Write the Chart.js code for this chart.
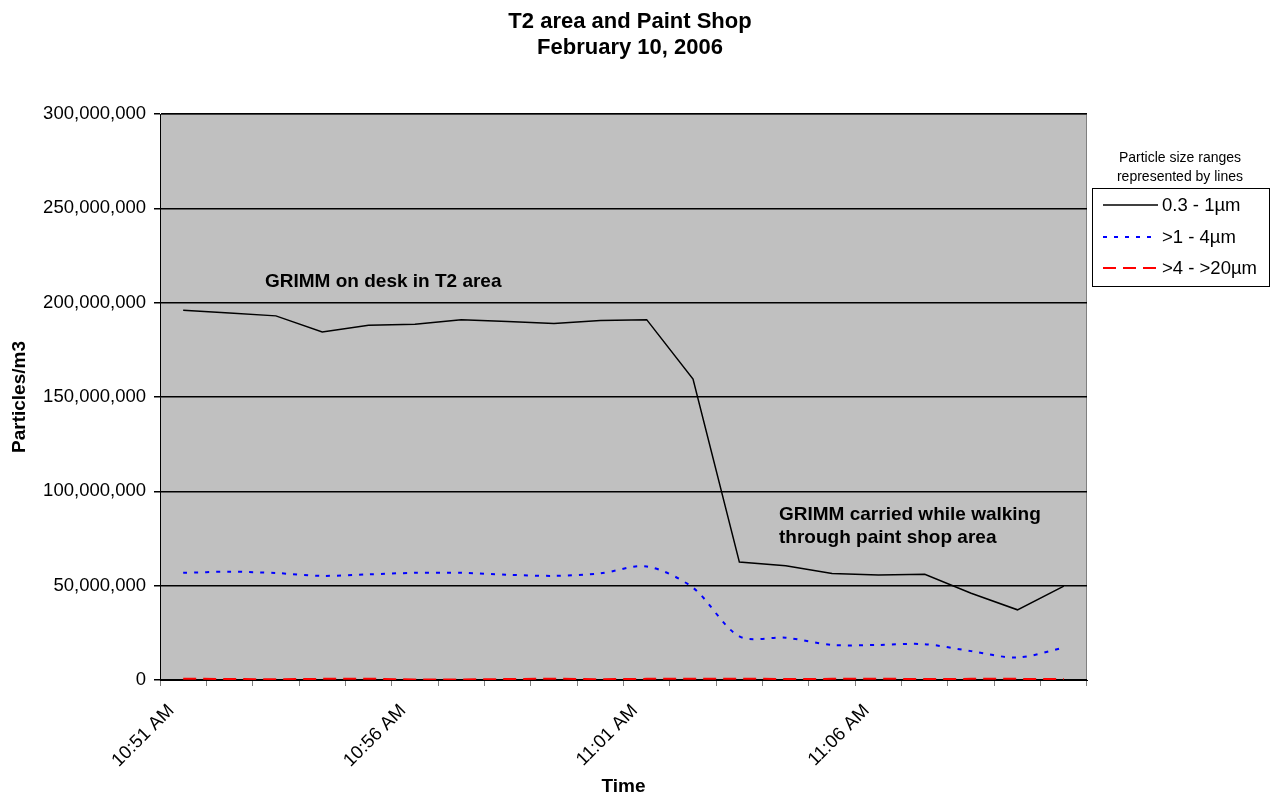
<!DOCTYPE html>
<html>
<head>
<meta charset="utf-8">
<script src="https://cdn.jsdelivr.net/npm/chart.js@4"></script>
<style>
  html, body { margin: 0; padding: 0; background: #fff; }
  #wrap { width: 1275px; height: 799px; }
</style>
</head>
<body>
<div id="wrap"><canvas id="mychart" width="1275" height="799"></canvas></div>
<script>
// one reading per minute
const times = ['10:51 AM', '10:52 AM', '10:53 AM', '10:54 AM', '10:55 AM', '10:56 AM', '10:57 AM',
  '10:58 AM', '10:59 AM', '11:00 AM', '11:01 AM', '11:02 AM', '11:03 AM', '11:04 AM', '11:05 AM',
  '11:06 AM', '11:07 AM', '11:08 AM', '11:09 AM', '11:10 AM']

const small = [196000000, 194500000, 193000000, 184500000, 188000000, 188500000, 191000000,
  190000000, 189000000, 190500000, 191000000, 159500000, 62500000, 60500000, 56500000,
  55700000, 56000000, 46000000, 37200000, 49800000]

const medium = [56800000, 57400000, 56700000, 55200000, 56000000, 56800000, 56800000,
  55800000, 55200000, 56500000, 60200000, 48900000, 23100000, 22400000, 18600000,
  18600000, 19000000, 15300000, 11900000, 17200000]

const large = [700000, 500000, 400000, 600000, 700000, 300000, 300000, 500000, 700000, 400000,
  600000, 700000, 700000, 500000, 600000, 700000, 500000, 600000, 600000, 500000]

const seriesNames = ['0.3 - 1\u00b5m', '>1 - 4\u00b5m', '>4 - >20\u00b5m']
const yTicks = [0, 50000000, 100000000, 150000000, 200000000, 250000000, 300000000]

const FONT = "'Liberation Sans', Arial, sans-serif"

const decorations = {
    id: 'decorations',
    beforeDraw(chart) {
        const { ctx, chartArea: a } = chart
        ctx.save()
        ctx.fillStyle = '#fff'
        ctx.fillRect(0, 0, chart.width, chart.height)
        ctx.fillStyle = '#c0c0c0'
        ctx.fillRect(a.left, a.top, a.right - a.left, a.bottom - a.top)
        ctx.strokeStyle = '#808080'
        ctx.lineWidth = 1
        ctx.strokeRect(a.left + 0.5, a.top + 0.5, a.right - a.left - 1, a.bottom - a.top - 1)
        ctx.restore()
    },
    afterDraw(chart) {
        const ctx = chart.ctx
        ctx.save()
        ctx.fillStyle = '#000'
        ctx.textBaseline = 'middle'

        // title
        ctx.textAlign = 'center'
        ctx.font = 'bold 22px ' + FONT
        ctx.fillText('T2 area and Paint Shop', 630, 22)
        ctx.fillText('February 10, 2006', 630, 48)

        // notes on the plot
        ctx.textAlign = 'left'
        ctx.font = 'bold 19px ' + FONT
        ctx.fillText('GRIMM on desk in T2 area', 265, 282)
        ctx.fillText('GRIMM carried while walking', 779, 515)
        ctx.fillText('through paint shop area', 779, 538)

        // legend
        ctx.textAlign = 'center'
        ctx.font = '14px ' + FONT
        ctx.fillText('Particle size ranges', 1180, 158)
        ctx.fillText('represented by lines', 1180, 177)
        ctx.fillStyle = '#fff'
        ctx.fillRect(1092, 188, 177, 98)
        ctx.strokeStyle = '#000'
        ctx.lineWidth = 1
        ctx.strokeRect(1092.5, 188.5, 177, 98)
        const rows = [205, 237, 268]
        chart.data.datasets.forEach((ds, i) => {
            ctx.strokeStyle = ds.borderColor
            ctx.lineWidth = ds.borderWidth
            ctx.setLineDash(ds.borderDash || [])
            ctx.beginPath()
            ctx.moveTo(1103, rows[i])
            ctx.lineTo(1158, rows[i])
            ctx.stroke()
            ctx.setLineDash([])
            ctx.fillStyle = '#000'
            ctx.textAlign = 'left'
            ctx.font = '18.5px ' + FONT
            ctx.fillText(ds.label, 1162, rows[i] + 1)
        })
        ctx.restore()
    }
}

const chart = new Chart(document.getElementById('mychart'), {
    type: 'line',
    data: {
        labels: times,
        datasets: [{
            label: seriesNames[0],
            data: small,
            borderColor: '#000000',
            borderWidth: 1.5,
            tension: 0
        }, {
            label: seriesNames[1],
            data: medium,
            borderColor: '#0000ff',
            borderWidth: 2,
            borderDash: [4, 7],
            tension: 0.3
        }, {
            label: seriesNames[2],
            data: large,
            borderColor: '#ff0000',
            borderWidth: 2,
            borderDash: [13, 7],
            tension: 0
        }]
    },
    options: {
        responsive: false,
        animation: false,
        devicePixelRatio: 1,
        elements: { point: { radius: 0, hoverRadius: 0 } },
        layout: { padding: { left: 0, right: 188, top: 114, bottom: 0 } },
        plugins: {
            legend: { display: false },
            title: { display: false },
            tooltip: { enabled: false }
        },
        scales: {
            x: {
                type: 'category',
                offset: true,
                afterFit: (s) => { s.height = 119 },
                grid: {
                    offset: true,
                    drawOnChartArea: false,
                    drawTicks: true,
                    tickLength: 6,
                    tickColor: '#808080'
                },
                border: { display: true, color: '#000', width: 1 },
                ticks: {
                    autoSkip: false,
                    minRotation: 45,
                    maxRotation: 45,
                    color: '#000',
                    padding: 14,
                    labelOffset: -12,
                    font: { family: FONT, size: 18.5 },
                    callback: (v, i) => (i % 5 === 0 ? times[i] : '')
                },
                title: {
                    display: true,
                    text: 'Time',
                    color: '#000',
                    font: { family: FONT, size: 19, weight: 'bold' },
                    padding: { top: 0, bottom: 0.5 }
                }
            },
            y: {
                min: 0,
                max: 300000000,
                afterFit: (s) => { s.width = 160 },
                afterBuildTicks: (s) => { s.ticks = yTicks.map(v => ({ value: v })) },
                grid: {
                    color: '#000',
                    lineWidth: 1.5,
                    tickColor: '#000',
                    tickLength: 6
                },
                border: { display: true, color: '#000', width: 1 },
                ticks: {
                    color: '#000',
                    padding: 8,
                    font: { family: FONT, size: 18.5 },
                    callback: (v) => v.toLocaleString('en-US')
                },
                title: {
                    display: true,
                    text: 'Particles/m3',
                    color: '#000',
                    font: { family: FONT, size: 19, weight: 'bold' },
                    padding: { top: 8, bottom: 0 }
                }
            }
        }
    },
    plugins: [decorations]
})
</script>
</body>
</html>
